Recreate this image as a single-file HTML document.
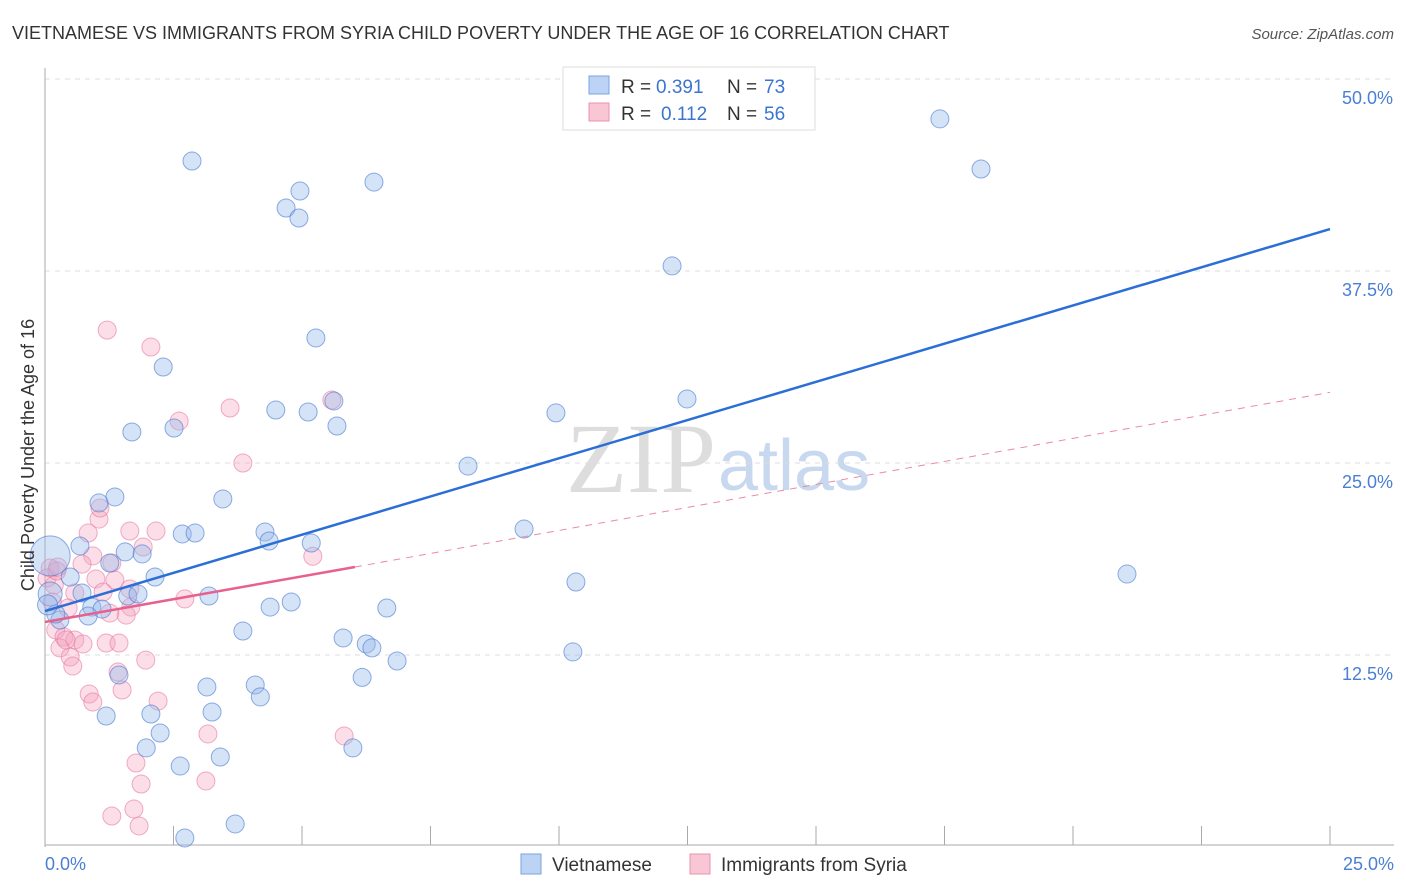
<!DOCTYPE html>
<html><head><meta charset="utf-8"><style>
body{margin:0;background:#fff;font-family:"Liberation Sans",sans-serif;}
svg{display:block}
</style></head><body>
<svg width="1406" height="892">
<text x="12" y="39" font-size="18" fill="#333">VIETNAMESE VS IMMIGRANTS FROM SYRIA CHILD POVERTY UNDER THE AGE OF 16 CORRELATION CHART</text>
<text x="1394" y="39" font-size="15" fill="#555" text-anchor="end" font-style="italic">Source: ZipAtlas.com</text>
<text x="716" y="492" font-size="100" fill="#ddd" text-anchor="end" font-family="Liberation Serif">ZIP</text>
<text x="718" y="490" font-size="72" fill="#c8d8ee">atlas</text>
<g id="grid"></g>
<g id="axes"></g>
<g id="marks"></g>
<text transform="translate(34,455) rotate(-90)" font-size="18" fill="#333" text-anchor="middle">Child Poverty Under the Age of 16</text>
<text x="45" y="870" font-size="18" fill="#4a7fd4">0.0%</text>
<text x="1394" y="870" font-size="18" fill="#4a7fd4" text-anchor="end">25.0%</text>
<g>
<rect x="563" y="67" width="252" height="63" fill="#fff" stroke="#ddd"/>
<rect x="589" y="76" width="20" height="18" fill="#bcd3f5" stroke="#7aa3e0"/>
<rect x="589" y="103" width="20" height="18" fill="#f8c6d5" stroke="#ec93b0"/>
<text x="621" y="93" font-size="19" fill="#333">R =</text>
<text x="656" y="93" font-size="19" fill="#3a75d0">0.391</text>
<text x="727" y="93" font-size="19" fill="#333">N =</text>
<text x="764" y="93" font-size="19" fill="#3a75d0">73</text>
<text x="621" y="120" font-size="19" fill="#333">R =</text>
<text x="661" y="120" font-size="19" fill="#3a75d0">0.112</text>
<text x="727" y="120" font-size="19" fill="#333">N =</text>
<text x="764" y="120" font-size="19" fill="#3a75d0">56</text>
</g>
<g>
<rect x="521" y="854" width="20" height="20" fill="#bcd3f5" stroke="#7aa3e0"/>
<text x="552" y="871" font-size="19" fill="#333">Vietnamese</text>
<rect x="690" y="854" width="20" height="20" fill="#f8c6d5" stroke="#ec93b0"/>
<text x="721" y="871" font-size="19" fill="#333">Immigrants from Syria</text>
</g>
</svg>
<script>
const yTicks=[12.5,25,37.5,50];
const yTickLabels=["12.5%","25.0%","37.5%","50.0%"];
const xTicks=[0,2.5,5,7.5,10,12.5,15,17.5,20,22.5,25];
const blueX=[2.86,4.96,4.69,4.94,6.4,17.41,18.21,12.2,5.27,2.3,5.62,4.49,5.12,5.68,1.69,2.51,9.94,12.49,8.23,3.46,1.36,1.05,2.67,2.92,4.28,4.36,5.18,9.32,0.68,1.56,1.89,1.26,2.14,0.49,10.33,21.05,0.72,1.61,1.81,3.19,0.91,1.11,4.38,4.79,6.65,0.29,0.84,0.21,3.85,5.8,6.25,6.36,6.85,10.27,6.17,3.15,4.09,4.19,1.44,1.19,2.06,3.25,2.24,1.97,5.99,3.41,2.63,2.72,3.7,0.1,0.1,0.05];
const blueY=[44.66,42.71,41.6,40.95,43.29,47.4,44.14,37.83,33.14,31.25,29.04,28.45,28.32,27.41,27.02,27.28,28.26,29.17,24.8,22.66,22.79,22.4,20.38,20.44,20.51,19.92,19.79,20.7,19.6,19.21,19.08,18.49,17.58,17.58,17.25,17.77,16.54,16.34,16.47,16.34,15.62,15.49,15.62,15.95,15.56,14.78,15.04,15.17,14.06,13.61,13.22,12.96,12.11,12.7,11.04,10.42,10.55,9.77,11.2,8.53,8.66,8.79,7.42,6.45,6.45,5.86,5.27,0.59,1.5,18.95,16.47,15.76];
const blueR=[9,9,9,9,9,9,9,9,9,9,9,9,9,9,9,9,9,9,9,9,9,9,9,9,9,9,9,9,9,9,9,9,9,9,9,9,9,9,9,9,9,9,9,9,9,9,9,9,9,9,9,9,9,9,9,9,9,9,9,9,9,9,9,9,9,9,9,9,9,20,12,10];
const pinkX=[1.21,2.06,2.61,3.6,3.85,5.58,1.05,0.84,1.07,1.65,2.16,1.91,0.93,1.3,0.1,0.04,0.18,0.23,0.72,0.99,1.36,0.58,1.13,1.65,0.45,1.67,1.58,1.26,0.21,0.37,0.58,0.74,1.19,1.44,0.29,0.49,0.54,1.96,1.42,1.5,0.86,0.93,2.2,2.72,5.21,3.17,5.82,1.77,3.13,1.87,1.73,1.3,1.83,0.41,0.14,0.25];
const pinkY=[33.65,32.55,27.73,28.58,25.0,29.1,21.35,20.44,22.07,20.57,20.57,19.53,18.95,18.49,18.16,17.51,17.06,17.97,18.42,17.45,17.38,16.54,16.6,16.8,15.56,15.62,15.1,15.23,14.13,13.67,13.48,13.22,13.28,13.28,12.96,12.37,11.78,12.17,11.39,10.22,9.96,9.44,9.5,16.15,18.93,7.36,7.23,5.47,4.3,4.1,2.47,2.02,1.37,13.48,15.95,18.23];
const W=1406,X0=45,X1=1330,Y0=847,PPY=15.36;
const sx=v=>X0+(v/25)*(X1-X0), sy=v=>Y0-v*PPY;
const NS="http://www.w3.org/2000/svg";
function mk(tag,attrs,parent){const e=document.createElementNS(NS,tag);for(const k in attrs)e.setAttribute(k,attrs[k]);parent.appendChild(e);return e;}
const grid=document.getElementById('grid'),axes=document.getElementById('axes'),marks=document.getElementById('marks');
yTicks.forEach((t,i)=>{
 const g=mk('line',{x1:X0,x2:1394,y1:sy(t),y2:sy(t),stroke:'#ddd','stroke-dasharray':'5,5'},grid);
 
 
 const l=mk('text',{x:1393,y:sy(t)+25,'font-size':18,fill:'#4a7fd4','text-anchor':'end'},grid);
 l.textContent=yTickLabels[i];
 
 
});
const ya=mk('line',{x1:X0,x2:X0,y1:68,y2:Y0,stroke:'#aaa'},axes);


const xa=mk('line',{x1:X0,x2:1394,y1:Y0-2,y2:Y0-2,stroke:'#aaa'},axes);


xTicks.forEach(t=>{
 const k=mk('line',{x1:sx(t),x2:sx(t),y1:826,y2:Y0-2,stroke:'#aaa'},axes);
 
 
});
pinkX.forEach((v,i)=>{
 const c=mk('circle',{cx:sx(v),cy:sy(pinkY[i]),r:9,fill:'rgba(244,160,188,0.35)',stroke:'rgba(232,120,160,0.6)','stroke-width':1},marks);
 
 
});
blueX.forEach((v,i)=>{
 const c=mk('circle',{cx:sx(v),cy:sy(blueY[i]),r:blueR[i],fill:'rgba(150,185,235,0.4)',stroke:'rgba(70,120,210,0.6)','stroke-width':1},marks);
 
 
});
const bl=mk('line',{x1:sx(0),y1:sy(15.36),x2:sx(25),y2:sy(40.23),stroke:'#2b6fd6','stroke-width':2.5},marks);


const pd=mk('line',{x1:sx(6.03),y1:sy(18.23),x2:sx(25),y2:sy(29.6),stroke:'#e88aa8','stroke-width':1,'stroke-dasharray':'7,6'},marks);


const pl=mk('line',{x1:sx(0),y1:sy(14.65),x2:sx(6.03),y2:sy(18.23),stroke:'#e8608e','stroke-width':2.5},marks);


</script>
</body></html>
